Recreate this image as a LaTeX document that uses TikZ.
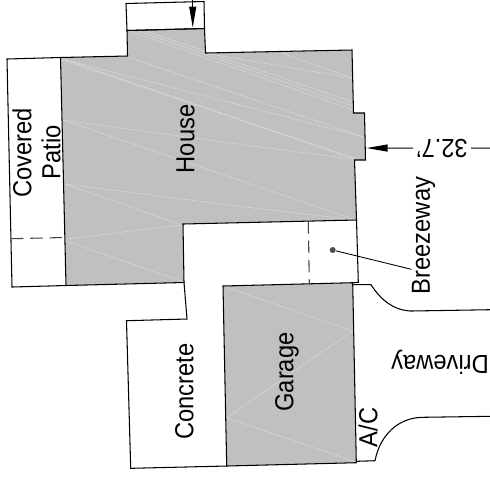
\documentclass[tikz,border=0pt]{standalone}
\usepackage{fontspec}
\setmainfont{Liberation Sans}
\usetikzlibrary{arrows.meta}
\definecolor{roofgray}{RGB}{192,192,192}
\definecolor{hatchgray}{RGB}{220,220,220}
\tikzset{
  planline/.style={black,line width=0.6pt},
  planfill/.style={fill=roofgray,draw=none},
  hatchline/.style={hatchgray,line width=0.3pt,dash pattern=on 2pt off 0.5pt},
  cutline/.style={black!75,line width=0.6pt,dash pattern=on 7pt off 4pt},
  planlabel/.style={font=\fontsize{13.5}{15}\selectfont,inner sep=0pt,align=center},
  uplabel/.style={planlabel,rotate=90,yscale=1.1},
  downlabel/.style={planlabel,rotate=180,yscale=1.1},
  dimline/.style={black,line width=0.6pt,-{Triangle[length=0.42cm,width=0.14cm]}}
}
\begin{document}
\begin{tikzpicture}[scale=0.02]
\useasboundingbox (0,0) rectangle (490,-476);
% gray roof areas
\fill [planfill] (127,-30.5) -- (204.5,-28.5) -- (205.5,-53) -- (352,-50) -- (353.5,-113) -- (364.5,-113) -- (365.5,-160) -- (354.5,-160) -- (356.5,-220) -- (183,-224) -- (184,-282.5) -- (66,-285.5) -- (60.5,-57.5) -- (127.5,-56) -- cycle;
\fill [planfill] (223,-286) -- (352.7,-282.7) -- (356.3,-462.7) -- (226.7,-466) -- cycle;
% pale lines on the house
\draw [hatchline] (60.5,-58) -- (355,-159.5);
\draw [hatchline] (60.5,-59.5) -- (355,-158);
\draw [hatchline] (62,-59) -- (364,-137);
\draw [hatchline] (127,-30) -- (353,-110);
\draw [hatchline] (135,-30) -- (353,-106);
\draw [hatchline] (142,-30) -- (353,-102);
\draw [hatchline] (128,-57) -- (364,-137);
\draw [hatchline] (63,-120) -- (245,-145) -- (352,-159);
\draw [hatchline] (63,-120) -- (356,-220);
\draw [hatchline] (65,-184) -- (245,-207) -- (356,-220);
\draw [hatchline] (65,-184) -- (182,-225);
\draw [hatchline] (182,-225) -- (66,-239);
\draw [hatchline] (66,-241) -- (184,-282);
\draw [hatchline] (205,-53) -- (245,-60) -- (352,-78);
\draw [hatchline] (282,-53) -- (352,-78);
% pale lines on the garage
\draw [hatchline] (223,-286) -- (352.7,-331);
\draw [hatchline] (352.7,-331) -- (226.7,-417.7);
\draw [hatchline] (226.7,-417.7) -- (356,-462);
% outlines
\draw [planline] (127,-30.5) -- (126,-3.5) -- (204,-1.5) -- (204.5,-28.5) -- cycle;
\draw [planline] (127,-30.5) -- (204.5,-28.5) -- (205.5,-53) -- (352,-50) -- (353.5,-113) -- (364.5,-113) -- (365.5,-160) -- (354.5,-160) -- (356.5,-220) -- (183,-224) -- (184,-282.5) -- (66,-285.5) -- (60.5,-57.5) -- (127.5,-56) -- cycle;
\draw [planline] (60.5,-57.5) -- (7,-59) -- (12,-287) -- (66,-285.5);
\draw [planline] (184,-282.5) -- (187,-319) -- (126.5,-320.7) -- (130.7,-468.3) -- (226.7,-466);
\draw [planline] (223,-286) -- (352.7,-282.7) -- (356.3,-462.7) -- (226.7,-466) -- cycle;
\draw [planline] (356.5,-220) -- (358.3,-282.3) -- (352.7,-282.7);
\draw [cutline] (11,-238.7) -- (64.5,-237.5);
\draw [cutline] (308.3,-221.3) -- (309.3,-283.7);
% driveway
\draw [planline] (353.3,-284.7) -- (371,-284.7) .. controls (381,-300) and (393,-310) .. (410.7,-311) -- (490,-309.7);
\draw [planline] (356.7,-461.3) -- (375,-460.7) .. controls (380,-435) and (398,-418) .. (421.7,-417.3) -- (490,-416.3);
% labels
\node [uplabel] (covered) at (22,-153) {Covered};
\node [uplabel] (patio) at (51,-152) {Patio};
\node [uplabel] (house) at (185.5,-139) {House};
\node [uplabel] (concrete) at (184.5,-391.7) {Concrete};
\node [uplabel] (garage) at (287,-372) {Garage};
\node [uplabel] (ac) at (368,-427.5) {A/C};
\node [uplabel] (breezeway) at (423.5,-235.5) {Breezeway};
\node [downlabel] (driveway) at (440,-362.7) {Driveway};
\node [downlabel,inner xsep=0.06cm] (span) at (442,-148) {32.7'};
% dimension
\coordinate (spanend) at (490,-148);
\coordinate (spantip) at (366.5,-148);
\coordinate (topend) at (192.7,0);
\coordinate (toptip) at (192.7,-27.5);
\draw [planline] (span) -- (spanend);
\draw [dimline] (span) -- (spantip);
\draw [dimline] (topend) -- (toptip);
% breezeway leader
\node [circle,fill=black!70,inner sep=0pt,minimum size=0.12cm] (breezedot) at (332.7,-250) {};
\draw [planline,line width=0.5pt] (breezedot) -- (breezeway.162);
\end{tikzpicture}
\end{document}
